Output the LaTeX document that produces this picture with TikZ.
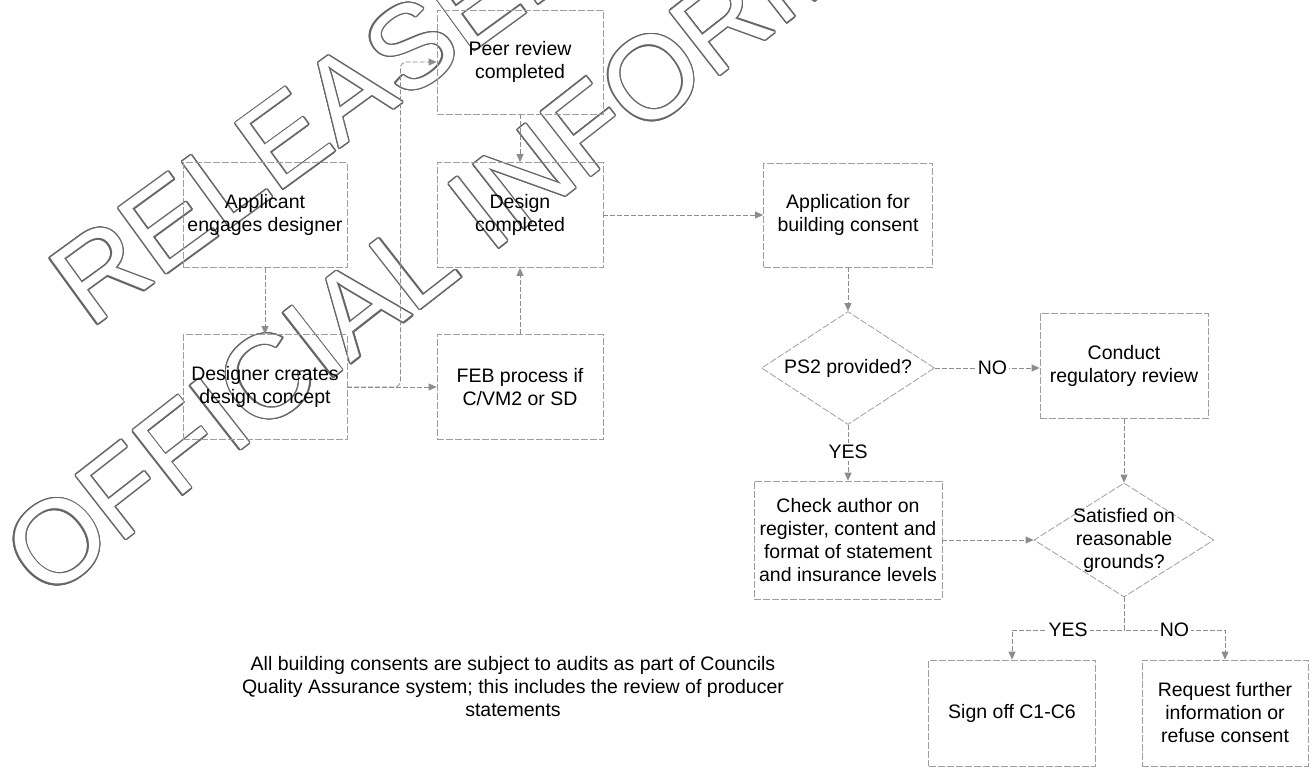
\documentclass[tikz,border=0pt]{standalone}
\usepackage{fontspec}
\setmainfont{Liberation Sans}
\usetikzlibrary{arrows.meta,shapes.geometric,calc}
\begin{document}
\begin{tikzpicture}[x=1pt,y=-1pt,
  txt/.style={font=\fontsize{19.5pt}{23pt}\selectfont, align=center, inner sep=0pt},
  box/.style={txt, draw=black!38, line width=0.8pt, dash pattern=on 7pt off 2pt},
  dia/.style={diamond, draw=black!38, line width=0.8pt, dash pattern=on 7pt off 2pt, inner sep=0pt},
  conn/.style={draw=black!45, line width=0.8pt, dash pattern=on 5pt off 2pt, -{Triangle[length=8pt,width=7pt]}},
  lbl/.style={txt, fill=white, inner sep=2pt},
  wm/.style={anchor=west, inner sep=0pt, font=\fontsize{118pt}{118pt}\selectfont}
]
\useasboundingbox (0,0) rectangle (1312,769);
% watermark
\begin{scope}
\clip (0,0) rectangle (1312,769);
\foreach \a in {0,20,...,340} {
  \node[wm, rotate=38, text=black!60] (wmo\a) at ($(21,570)+(\a:1.3)$) {OFFICIAL INFORMATION};
  \node[wm, rotate=36, text=black!60] (wmr\a) at ($(66,297)+(\a:1.3)$) {RELEASED};
}
\node[wm, rotate=38, text=white] (wmo) at (21,570) {OFFICIAL INFORMATION};
\node[wm, rotate=36, text=white] (wmr) at (66,297) {RELEASED};
\end{scope}
% boxes
\node[box, minimum width=166pt, minimum height=104pt] (peer) at (520,62) {Peer review\\completed};
\node[box, minimum width=164pt, minimum height=105pt] (appl) at (265,215) {Applicant\\engages designer};
\node[box, minimum width=166pt, minimum height=105pt] (design) at (520,215) {Design\\completed};
\node[box, minimum width=164pt, minimum height=105pt] (concept) at (265,387) {Designer creates\\design concept};
\node[box, minimum width=166pt, minimum height=105pt] (feb) at (520,387) {FEB process if\\C/VM2 or SD};
\node[box, minimum width=169pt, minimum height=104pt] (app) at (848,215) {Application for\\building consent};
\node[dia, minimum width=173pt, minimum height=113pt] (ps2) at (848,368) {};
\node[txt] (ps2t) at (ps2.center) {PS2 provided?};
\node[box, minimum width=168pt, minimum height=105pt] (conduct) at (1124,366) {Conduct\\regulatory review};
\node[box, minimum width=188pt, minimum height=118pt] (check) at (848,540) {Check author on\\register, content and\\format of statement\\and insurance levels};
\node[dia, minimum width=180pt, minimum height=114pt] (sat) at (1124,540) {};
\node[txt] (satt) at (sat.center) {Satisfied on\\reasonable\\grounds?};
\node[box, minimum width=167pt, minimum height=106pt] (sign) at (1012,713) {Sign off C1-C6};
\node[box, minimum width=166pt, minimum height=106pt] (req) at (1225,713) {Request further\\information or\\refuse consent};
\node[txt] (note) at (513,687) {All building consents are subject to audits as part of Councils\\Quality Assurance system; this includes the review of producer\\statements};
% connectors
\draw[conn] (appl) -- (concept);
\draw[conn] (concept) -- (feb);
\draw[conn, rounded corners=6pt] (concept.east) -- ++(53pt,0) |- (peer.west);
\draw[conn] (feb) -- (design);
\draw[conn] (peer) -- (design);
\draw[conn] (design) -- (app);
\draw[conn] (app) -- (ps2);
\draw[conn] (ps2.east) -- node[lbl, pos=0.55] (no1) {NO} (ps2.east -| conduct.west);
\draw[conn] (ps2) -- node[lbl, pos=0.49] (yes1) {YES} (check);
\draw[conn] (conduct) -- (sat);
\draw[conn] (check) -- (sat);
\coordinate (split) at (1124,630);
\draw[conn] (sat.south) -- (split) -| node[lbl, pos=0.25] (yes2) {YES} (sign.north);
\draw[conn] (sat.south) -- (split) -| node[lbl, pos=0.25] (no2) {NO} (req.north);
\end{tikzpicture}
\end{document}
